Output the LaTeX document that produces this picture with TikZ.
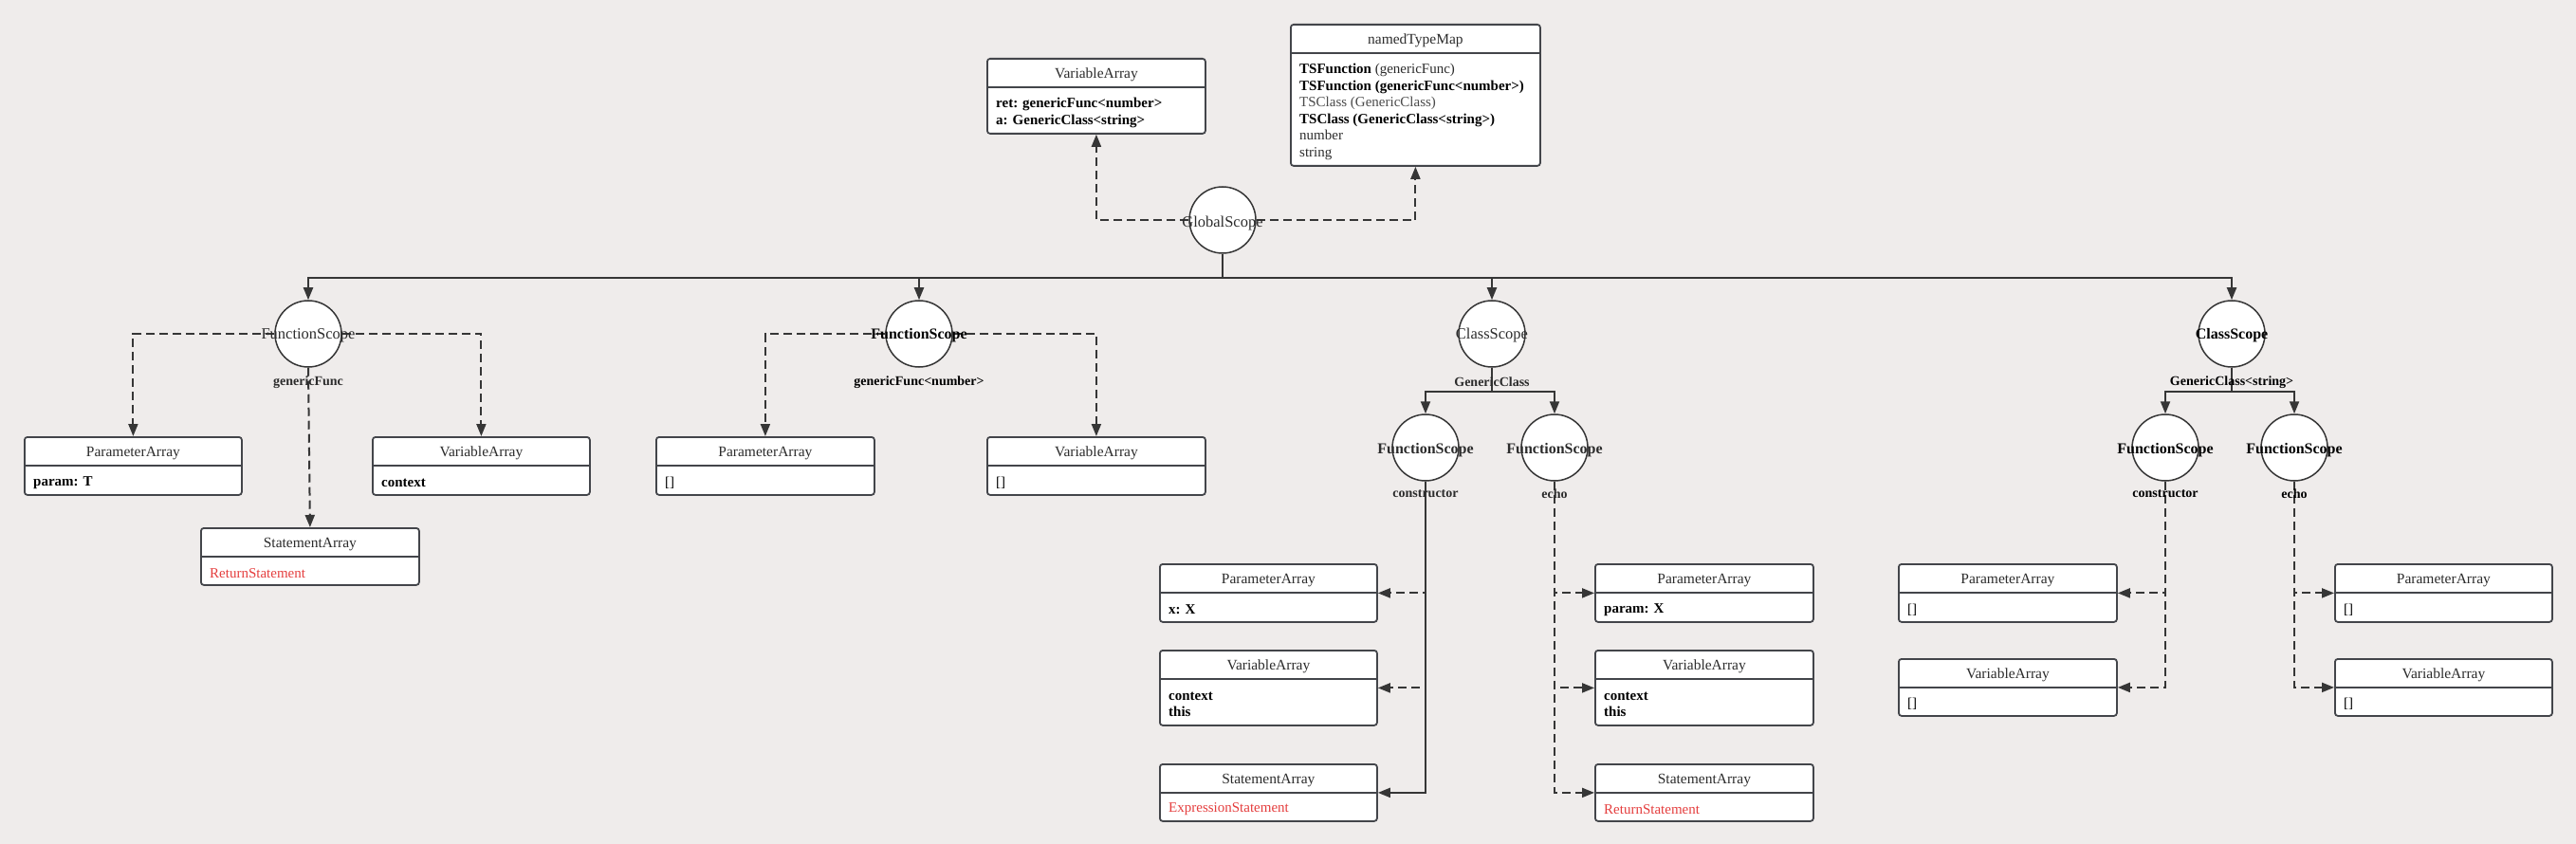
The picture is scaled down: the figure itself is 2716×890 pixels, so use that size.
\documentclass[tikz,border=0pt]{standalone}
\usepackage{fontspec}
\setmainfont{Liberation Serif}
\usetikzlibrary{arrows.meta,calc}
\definecolor{bgc}{HTML}{EFECEB}
\definecolor{ln}{HTML}{363636}
\definecolor{bx}{HTML}{43454A}
\definecolor{tx}{HTML}{2C2C2C}
\definecolor{lt}{HTML}{4A4A4A}
\definecolor{rd}{HTML}{E53E3E}
\pgfdeclarelayer{back}\pgfdeclarelayer{bg}\pgfsetlayers{back,bg,main}
\tikzset{
  conn/.style={draw=ln, line width=2pt},
  arr/.style={conn, -{Triangle[length=13pt,width=10pt]}},
  darr/.style={arr, dash pattern=on 9pt off 5pt},
  scopenode/.style={circle, draw=ln, line width=1.5pt, fill=white, minimum size=70pt, inner sep=0pt},
  ctext/.style={inner sep=0pt, anchor=base, text=tx, font=\fontsize{16.5}{18}\selectfont},
  cbold/.style={inner sep=0pt, anchor=base, text=tx, font=\fontsize{16}{18}\selectfont\bfseries},
  cblack/.style={inner sep=0pt, anchor=base, text=black, font=\fontsize{16}{18}\selectfont\bfseries},
  lab/.style={inner sep=0pt, text=tx, font=\fontsize{14}{16}\selectfont\bfseries},
  labk/.style={inner sep=0pt, text=black, font=\fontsize{14}{16}\selectfont\bfseries},
  umlbox/.style={draw=bx, line width=1.8pt, fill=white, rounded corners=3pt, inner sep=0pt},
  umldiv/.style={draw=bx, line width=1.8pt},
  umltitle/.style={inner sep=0pt, anchor=base, text=tx, font=\fontsize{15.5}{18}\selectfont},
  umlbody/.style={inner sep=0pt, text=black, align=left, anchor=west, font=\fontsize{15}{17.6}\selectfont},
}
% #1 name, #2 left x, #3 top y, #4 width, #5 height, #6 title, #7 body
\newcommand\ubox[7]{%
  \node[umlbox, minimum width=#4pt, minimum height=#5pt, anchor=north west] (#1) at (#2,#3) {};
  \draw[umldiv] ([yshift=-31pt]#1.north west) -- ([yshift=-31pt]#1.north east);
  \node[umltitle] (#1-t) at ([yshift=-21.5pt]#1.north) {#6};
  \node[umlbody] (#1-b) at ($([xshift=10pt,yshift=-33pt]#1.north west)!0.5!([xshift=10pt,yshift=-2pt]#1.south west)$) {#7};
}
\begin{document}
\begin{tikzpicture}[x=1pt,y=-1pt]
\useasboundingbox (0,0) rectangle (2716,890);
\begin{pgfonlayer}{back}
  \fill[bgc] (0,0) rectangle (2716,890);
\end{pgfonlayer}

% scopes
\node[scopenode] (GS) at (1289,232) {};
\node[ctext] (GSt) at ([yshift=-8pt]GS.center) {GlobalScope};
\node[scopenode] (FS1) at (325,352) {};
\node[ctext] (FS1t) at ([yshift=-6pt]FS1.center) {FunctionScope};
\node[scopenode] (FS2) at (969,352) {};
\node[cblack] (FS2t) at ([yshift=-6pt]FS2.center) {FunctionScope};
\node[scopenode] (CS1) at (1573,352) {};
\node[ctext] (CS1t) at ([yshift=-6pt]CS1.center) {ClassScope};
\node[scopenode] (CS2) at (2353,352) {};
\node[cblack] (CS2t) at ([yshift=-6pt]CS2.center) {ClassScope};
\node[scopenode] (FC1) at (1503,472) {};
\node[cbold] (FC1t) at ([yshift=-6pt]FC1.center) {FunctionScope};
\node[scopenode] (FE1) at (1639,472) {};
\node[cbold] (FE1t) at ([yshift=-6pt]FE1.center) {FunctionScope};
\node[scopenode] (FC2) at (2283,472) {};
\node[cblack] (FC2t) at ([yshift=-6pt]FC2.center) {FunctionScope};
\node[scopenode] (FE2) at (2419,472) {};
\node[cblack] (FE2t) at ([yshift=-6pt]FE2.center) {FunctionScope};

% labels
\node[lab] (L1) at (325,403) {genericFunc};
\node[labk] (L2) at (969,403) {genericFunc<number>};
\node[lab] (L3) at (1573,403) {GenericClass};
\node[labk] (L4) at (2353,403) {GenericClass<string>};
\node[lab] (L5) at (1503,521) {constructor};
\node[lab] (L6) at (1639,521) {echo};
\node[labk] (L7) at (2283,521) {constructor};
\node[labk] (L8) at (2419,521) {echo};

% boxes
\ubox{VAt}{1040}{61}{230}{79}{VariableArray}{\textbf{ret: genericFunc<number>}\\\textbf{a: GenericClass<string>}}
\ubox{NTM}{1360}{25}{263}{149}{namedTypeMap}{\textbf{TSFunction} \textcolor{tx}{(genericFunc)}\\\textbf{TSFunction (genericFunc<number>)}\\\textcolor{lt}{TSClass (GenericClass)}\\\textbf{TSClass (GenericClass<string>)}\\\textcolor{tx}{number}\\\textcolor{tx}{string}}
\ubox{PA1}{25}{460}{229}{61}{ParameterArray}{\textbf{param: T}}
\ubox{VA1}{392}{460}{229}{61}{VariableArray}{\textbf{context}}
\ubox{SA1}{211}{556}{230}{60}{StatementArray}{\textcolor{rd}{ReturnStatement}}
\ubox{PA2}{691}{460}{230}{61}{ParameterArray}{[]}
\ubox{VA2}{1040}{460}{230}{61}{VariableArray}{[]}
\ubox{PA3}{1222}{594}{229}{61}{ParameterArray}{\textbf{x: X}}
\ubox{VA3}{1222}{685}{229}{79}{VariableArray}{\textbf{context}\\\textbf{this}}
\ubox{SA3}{1222}{805}{229}{60}{StatementArray}{\textcolor{rd}{ExpressionStatement}}
\ubox{PA4}{1681}{594}{230}{61}{ParameterArray}{\textbf{param: X}}
\ubox{VA4}{1681}{685}{230}{79}{VariableArray}{\textbf{context}\\\textbf{this}}
\ubox{SA4}{1681}{805}{230}{60}{StatementArray}{\textcolor{rd}{ReturnStatement}}
\ubox{PA5}{2001}{594}{230}{61}{ParameterArray}{[]}
\ubox{VA5}{2001}{694}{230}{60}{VariableArray}{[]}
\ubox{PA6}{2461}{594}{229}{61}{ParameterArray}{[]}
\ubox{VA6}{2461}{694}{229}{60}{VariableArray}{[]}

\begin{pgfonlayer}{bg}
  % global
  \draw[darr] (GS.west) -| (VAt.south);
  \draw[darr] (GS.east) -| (NTM.south);
  \draw[arr] (GS.south) -- ++(0,25) -| (FS1.north);
  \draw[arr] (GS.south) -- ++(0,25) -| (FS2.north);
  \draw[arr] (GS.south) -- ++(0,25) -| (CS1.north);
  \draw[arr] (GS.south) -- ++(0,25) -| (CS2.north);
  % FS1
  \draw[darr] (FS1.west) -| (PA1.north);
  \draw[darr] (FS1.east) -| (VA1.north);
  \draw[darr] (FS1.south) -- (SA1.north);
  % FS2
  \draw[darr] (FS2.west) -| (PA2.north);
  \draw[darr] (FS2.east) -| (VA2.north);
  % CS1
  \draw[arr] (CS1.south) -- ++(0,25) -| (FC1.north);
  \draw[arr] (CS1.south) -- ++(0,25) -| (FE1.north);
  \draw[darr] (FC1.south) |- (PA3.east);
  \draw[darr] (FC1.south) |- (VA3.east);
  \draw[arr] (FC1.south) |- (SA3.east);
  \draw[darr] (FE1.south) |- (PA4.west);
  \draw[darr] (FE1.south) |- (VA4.west);
  \draw[darr] (FE1.south) |- (SA4.west);
  % CS2
  \draw[arr] (CS2.south) -- ++(0,25) -| (FC2.north);
  \draw[arr] (CS2.south) -- ++(0,25) -| (FE2.north);
  \draw[darr] (FC2.south) |- (PA5.east);
  \draw[darr] (FC2.south) |- (VA5.east);
  \draw[darr] (FE2.south) |- (PA6.west);
  \draw[darr] (FE2.south) |- (VA6.west);
\end{pgfonlayer}
\end{tikzpicture}
\end{document}
